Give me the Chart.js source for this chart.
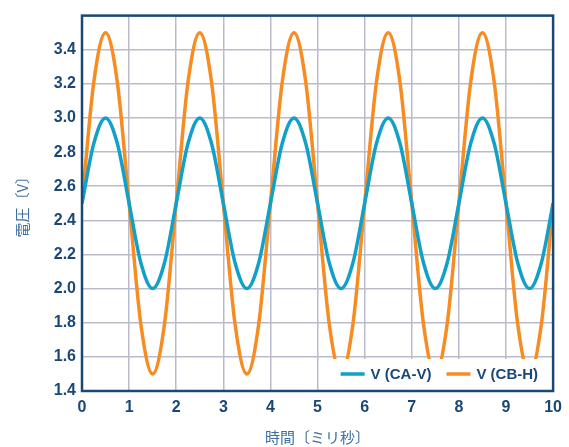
<!DOCTYPE html>
<html>
<head>
<meta charset="utf-8">
<script src="https://cdn.jsdelivr.net/npm/chart.js@4"></script>
<style>
  html, body { margin: 0; padding: 0; background: #fff; }
  #wrap { width: 569px; height: 447px; }
</style>
</head>
<body>
<div id="wrap"><canvas id="chart"></canvas></div>
<script>
// time in ms
const timeMs = [
  0, 0.25, 0.5, 0.75, 1, 1.25, 1.5, 1.75,
  2, 2.25, 2.5, 2.75, 3, 3.25, 3.5, 3.75,
  4, 4.25, 4.5, 4.75, 5, 5.25, 5.5, 5.75,
  6, 6.25, 6.5, 6.75, 7, 7.25, 7.5, 7.75,
  8, 8.25, 8.5, 8.75, 9, 9.25, 9.5, 9.75, 10
];
const voltCAV = [
  2.5, 2.85, 3.0, 2.85, 2.5, 2.15, 2.0, 2.15,
  2.5, 2.85, 3.0, 2.85, 2.5, 2.15, 2.0, 2.15,
  2.5, 2.85, 3.0, 2.85, 2.5, 2.15, 2.0, 2.15,
  2.5, 2.85, 3.0, 2.85, 2.5, 2.15, 2.0, 2.15,
  2.5, 2.85, 3.0, 2.85, 2.5, 2.15, 2.0, 2.15, 2.5
];
const voltCBH = [
  2.5, 3.21, 3.5, 3.21, 2.5, 1.79, 1.5, 1.79,
  2.5, 3.21, 3.5, 3.21, 2.5, 1.79, 1.5, 1.79,
  2.5, 3.21, 3.5, 3.21, 2.5, 1.79, 1.5, 1.79,
  2.5, 3.21, 3.5, 3.21, 2.5, 1.79, 1.5, 1.79,
  2.5, 3.21, 3.5, 3.21, 2.5, 1.79, 1.5, 1.79, 2.5
];
const seriesLabels = ["V (CA-V)", "V (CB-H)"];
const xTicks = [0, 1, 2, 3, 4, 5, 6, 7, 8, 9, 10];
const yTicks = [1.4, 1.6, 1.8, 2.0, 2.2, 2.4, 2.6, 2.8, 3.0, 3.2, 3.4, 3.6];

const NAVY = "#1a4876";
const BLUE = "#12a0c8";
const ORANGE = "#f78d22";
const GRID = "#b9bbcc";
const TICK_FONT = { family: "'Liberation Sans', Arial, sans-serif", size: 16, weight: "bold" };
const TITLE_FONT = { family: "'Noto Sans CJK JP', sans-serif", size: 15 };

// legend with white box inside the plot, drawn over the lines
const boxLegend = {
  id: "boxLegend",
  afterDatasetsDraw(chart) {
    const ctx = chart.ctx;
    const ca = chart.chartArea;
    ctx.save();
    ctx.font = "bold 15px 'Liberation Sans', Arial, sans-serif";
    const sample = 24, gap = 6, between = 15, rightPad = 15;
    const items = chart.data.datasets.map(ds => ({
      text: ds.label, color: ds.borderColor, w: ctx.measureText(ds.label).width
    }));
    let total = 0;
    items.forEach((it, i) => { total += sample + gap + it.w + (i ? between : 0); });
    const boxLeft = ca.right - rightPad - total - 10;
    const boxTop = ca.bottom - 32;
    ctx.fillStyle = "#fff";
    ctx.fillRect(boxLeft, boxTop, ca.right - boxLeft, ca.bottom - boxTop);
    const cy = ca.bottom - 17;
    let x = ca.right - rightPad - total;
    items.forEach((it, i) => {
      if (i) x += between;
      ctx.strokeStyle = it.color;
      ctx.lineWidth = 3.5;
      ctx.beginPath();
      ctx.moveTo(x, cy);
      ctx.lineTo(x + sample, cy);
      ctx.stroke();
      x += sample + gap;
      ctx.fillStyle = NAVY;
      ctx.textBaseline = "middle";
      ctx.fillText(it.text, x, cy + 1);
      x += it.w;
    });
    ctx.restore();
  },
  afterDraw(chart) {
    const ctx = chart.ctx;
    const ca = chart.chartArea;
    ctx.save();
    ctx.strokeStyle = NAVY;
    ctx.lineWidth = 2.5;
    ctx.strokeRect(ca.left, ca.top, ca.right - ca.left, ca.bottom - ca.top);
    ctx.restore();
  }
};

new Chart(document.getElementById("chart"), {
  type: "line",
  data: {
    datasets: [
      {
        label: seriesLabels[0],
        data: timeMs.map((t, i) => ({ x: t, y: voltCAV[i] })),
        borderColor: BLUE,
        borderWidth: 3.5,
        pointRadius: 0,
        cubicInterpolationMode: "monotone",
        fill: false
      },
      {
        label: seriesLabels[1],
        data: timeMs.map((t, i) => ({ x: t, y: voltCBH[i] })),
        borderColor: ORANGE,
        borderWidth: 3.5,
        pointRadius: 0,
        cubicInterpolationMode: "monotone",
        fill: false
      }
    ]
  },
  options: {
    responsive: true,
    maintainAspectRatio: false,
    animation: false,
    layout: { padding: { left: 0, right: 13, top: 11, bottom: 0 } },
    scales: {
      x: {
        type: "linear",
        min: 0,
        max: 10,
        afterBuildTicks: s => { s.ticks = xTicks.map(v => ({ value: v })); },
        afterFit: s => { s.height = 56; },
        grid: { color: GRID, lineWidth: 1.5, drawTicks: false },
        border: { display: false },
        ticks: { color: NAVY, font: TICK_FONT, padding: 7, maxRotation: 0 },
        title: {
          display: true,
          text: "時間〔ミリ秒〕",
          color: "#3f709d",
          font: TITLE_FONT,
          padding: { top: 0, bottom: 1 }
        }
      },
      y: {
        min: 1.4,
        max: 3.6,
        afterBuildTicks: s => { s.ticks = yTicks.map(v => ({ value: v })); },
        afterFit: s => { s.width = 82; },
        grid: { color: GRID, lineWidth: 1.5, drawTicks: false },
        border: { display: false },
        ticks: {
          color: NAVY,
          font: TICK_FONT,
          padding: 6,
          callback: v => (v > 3.5 ? "" : v.toFixed(1))
        },
        title: {
          display: true,
          text: "電圧〔V〕",
          color: "#3f709d",
          font: TITLE_FONT,
          padding: { top: 13, bottom: 0 }
        }
      }
    },
    plugins: {
      legend: { display: false },
      tooltip: { enabled: false }
    }
  },
  plugins: [boxLegend]
});
</script>
</body>
</html>
